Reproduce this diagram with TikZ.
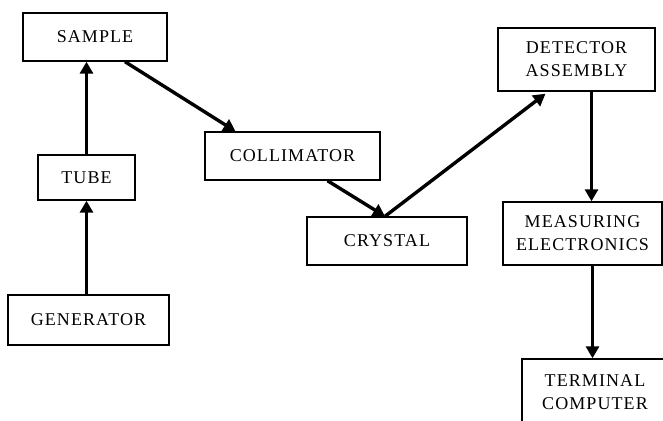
\documentclass[tikz,border=0pt]{standalone}
\usepackage{fontspec}
\setmainfont{Liberation Serif}[LetterSpace=6]
\usetikzlibrary{arrows.meta}

\begin{document}
\begin{tikzpicture}
    [x=1pt, y=-1pt, every node/.style={align=center, rectangle,
      draw, line width=1.4pt, inner sep=0pt, font=\fontsize{18}{23}\selectfont},
      arr/.style = {line width=3.4pt, -{Triangle[length=12pt,width=13pt]}}]

    \useasboundingbox (0,0) rectangle (663,420);
    \clip (0,0) rectangle (663,420);

    \node (sample) [minimum width=144pt, minimum height=48pt] at (95,37)
    {SAMPLE};
    \node (tube) [minimum width=97pt, minimum height=45pt] at (86.5,177.5)
    {TUBE};
    \node (gen) [minimum width=161pt, minimum height=50pt] at (88.5,320)
    {GENERATOR};
    \node (coll) [minimum width=175pt, minimum height=48pt] at (292.5,156)
    {COLLIMATOR};
    \node (crystal) [minimum width=160pt, minimum height=48pt] at (387,241)
    {CRYSTAL};
    \node (det) [minimum width=157pt, minimum height=63pt] at (576.5,59.5)
    {DETECTOR\\
      ASSEMBLY
    };
    \node (meas) [minimum width=159pt, minimum height=63pt] at (582.5,233.5)
    {MEASURING\\
      ELECTRONICS
    };
    \node (term) [minimum width=146pt, minimum height=66pt] at (595,392)
    {TERMINAL\\
      COMPUTER
    };

    \draw[arr] (tube |- gen.north) -- (tube);
    \draw[arr] (tube) -- (tube |- sample.south);
    \draw[arr] ([xshift=30pt]sample.south) -- ([xshift=-57pt]coll.north);
    \draw[arr] ([xshift=35pt]coll.south) -- ([xshift=-2pt]crystal.north);
    \draw[arr] ([xshift=-2pt]crystal.north) -- ([xshift=-31pt,yshift=-2pt]det.south);
    \draw[arr] ([xshift=15pt]det.south) -- ([xshift=15pt]det.south |- meas.north);
    \draw[arr] ([xshift=10pt]meas.south) -- ([xshift=10pt]meas.south |- term.north);
  \end{tikzpicture}
\end{document}
